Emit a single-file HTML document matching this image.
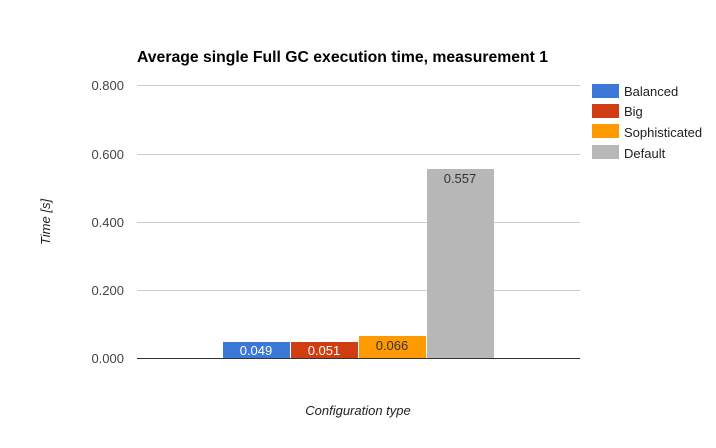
<!DOCTYPE html><html><head><style>body{margin:0;background:#fff}</style></head><body>
<svg width="716" height="443" xmlns="http://www.w3.org/2000/svg" font-family="Liberation Sans, Arial, sans-serif">
<rect width="716" height="443" fill="#fff"/>
<text x="137" y="62" font-size="15.5" font-weight="bold" fill="#000" textLength="411" lengthAdjust="spacingAndGlyphs">Average single Full GC execution time, measurement 1</text>
<g stroke="#ccc" stroke-width="1">
<line x1="137" x2="580" y1="85.5" y2="85.5"/><line x1="137" x2="580" y1="154.5" y2="154.5"/>
<line x1="137" x2="580" y1="222.5" y2="222.5"/><line x1="137" x2="580" y1="290.5" y2="290.5"/>
</g>
<g font-size="13" fill="#444" text-anchor="end">
<text x="124" y="90">0.800</text><text x="124" y="159">0.600</text><text x="124" y="227">0.400</text><text x="124" y="295">0.200</text><text x="124" y="363">0.000</text>
</g>
<rect x="223" y="342" width="67" height="16" fill="#3c78d8"/>
<rect x="291" y="342" width="67" height="16" fill="#d13d13"/>
<rect x="359" y="336" width="67" height="22" fill="#ff9900"/>
<rect x="427" y="169" width="67" height="189" fill="#b7b7b7"/>
<line x1="137" x2="580" y1="358.5" y2="358.5" stroke="#333"/>
<g font-size="13" text-anchor="middle">
<text x="256" y="355" fill="#fff">0.049</text><text x="324" y="355" fill="#fff">0.051</text>
<text x="392" y="350" fill="#333">0.066</text><text x="460" y="183" fill="#333">0.557</text>
</g>
<text transform="translate(50,222) rotate(-90)" font-size="13" font-style="italic" fill="#222" text-anchor="middle">Time [s]</text>
<text x="358" y="415" font-size="13" font-style="italic" fill="#222" text-anchor="middle">Configuration type</text>
<rect x="592" y="84" width="27" height="14" fill="#3c78d8"/>
<rect x="592" y="104" width="27" height="14" fill="#d13d13"/>
<rect x="592" y="124" width="27" height="14" fill="#ff9900"/>
<rect x="592" y="145" width="27" height="14" fill="#b7b7b7"/>
<g font-size="13" fill="#222">
<text x="624" y="96">Balanced</text><text x="624" y="116">Big</text><text x="624" y="137">Sophisticated</text><text x="624" y="158">Default</text>
</g>
</svg></body></html>
